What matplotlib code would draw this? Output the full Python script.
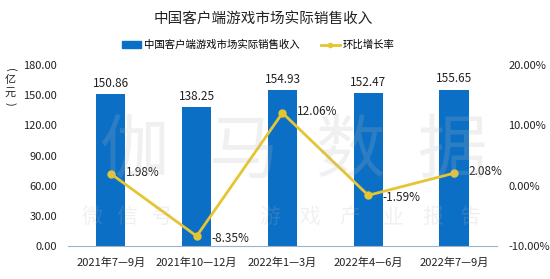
import matplotlib
matplotlib.use("Agg")
import matplotlib.pyplot as plt
from matplotlib.lines import Line2D
from matplotlib.patches import Patch

plt.rcParams['font.family'] = ['Noto Sans CJK SC', 'DejaVu Sans']

periods = ["2021年7—9月", "2021年10—12月", "2022年1—3月", "2022年4—6月", "2022年7—9月"]
revenue = [150.86, 138.25, 154.93, 152.47, 155.65]
qoq = [1.98, -8.35, 12.06, -1.59, 2.08]
left_ticks = [0, 30, 60, 90, 120, 150, 180]
right_ticks = [-10, 0, 10, 20]

BLUE = "#0b6fc6"
YELLOW = "#e5c531"
TXT = "#222222"

fig = plt.figure(figsize=(5.5, 2.79), dpi=100)
ax = fig.add_axes([0.1236, 0.118, 0.78, 0.649])
x = list(range(len(periods)))
ax.bar(x, revenue, width=0.34, color=BLUE, zorder=2)
for xi, v in zip(x, revenue):
    ax.text(xi, v + 4, f"{v:.2f}", ha="center", va="bottom", fontsize=8.5, color=TXT)
ax.set_xlim(-0.5, len(periods) - 0.5)
ax.set_ylim(0, 180)
ax.set_yticks(left_ticks)
ax.set_yticklabels([f"{t:.2f}" for t in left_ticks], fontsize=8, color=TXT)
ax.set_xticks(x)
ax.set_xticklabels(periods, fontsize=8, color=TXT)
ax.tick_params(length=0, pad=8)
for s in ["top", "right", "left"]:
    ax.spines[s].set_visible(False)
ax.spines["bottom"].set_color("#9db3c8")

ax2 = ax.twinx()
ax2.plot(x, qoq, color=YELLOW, lw=2, marker="o", ms=5, zorder=3)
for xi, v in zip(x, qoq):
    dy = -0.4 if v < 0 else 0.2
    ax2.text(xi + 0.17, v + dy, f"{v:.2f}%", ha="left", va="center", fontsize=8.5, color=TXT)
ax2.set_ylim(-10, 20)
ax2.set_yticks(right_ticks)
ax2.set_yticklabels([f"{t:.2f}%" for t in right_ticks], fontsize=8, color=TXT)
ax2.tick_params(length=0, pad=8)
for s in ["top", "right", "left", "bottom"]:
    ax2.spines[s].set_visible(False)

# watermark
for cx, ch in zip([135, 243, 350, 452], "伽马数据"):
    fig.text(cx / 550, 1 - 152 / 279, ch, ha="center", va="center", fontsize=50,
             color="#b8b8b8", alpha=0.2)
for cx, ch in zip([92, 127, 162, 270, 310, 350, 393, 433, 470], "微信号游戏产业报告"):
    fig.text(cx / 550, 1 - 217 / 279, ch, ha="center", va="center", fontsize=15,
             color="#b8b8b8", alpha=0.2)

# vertical unit label
fig.text(10 / 550, 1 - 70 / 279, "(", rotation=-90, ha="center", va="center", fontsize=8, color=TXT)
fig.text(10 / 550, 1 - 80 / 279, "亿", ha="center", va="center", fontsize=8, color=TXT)
fig.text(10 / 550, 1 - 93 / 279, "元", ha="center", va="center", fontsize=8, color=TXT)
fig.text(10 / 550, 1 - 104 / 279, ")", rotation=-90, ha="center", va="center", fontsize=8, color=TXT)

fig.text(0.478, 1 - 20 / 279, "中国客户端游戏市场实际销售收入", ha="center", va="center",
         fontsize=10.5, color=TXT)
handles = [Patch(color=BLUE), Line2D([0], [0], color=YELLOW, lw=2, marker="o", ms=3)]
fig.legend(handles, ["中国客户端游戏市场实际销售收入", "环比增长率"], loc="center",
           bbox_to_anchor=(0.47, 1 - 45 / 279), ncol=2, frameon=False, fontsize=7.5,
           handlelength=1.8, handleheight=0.6, columnspacing=2.0, handletextpad=0.3)
fig.savefig("out.png", dpi=100)
